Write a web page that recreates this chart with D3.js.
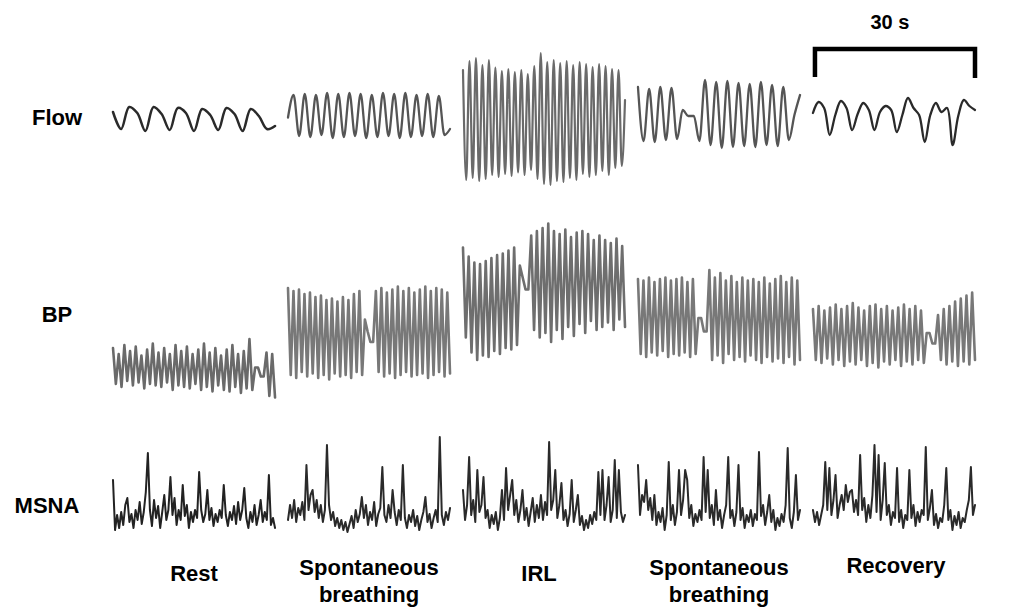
<!DOCTYPE html>
<html><head><meta charset="utf-8">
<script src="https://cdn.jsdelivr.net/npm/d3@7"></script>
<style>html,body{margin:0;padding:0;background:#fff;}svg{display:block;}</style>
</head><body>
<svg id="c" width="1024" height="610"></svg>
<script>
// ---- categories / labels ----
const conditions = ["Rest", "Spontaneous breathing ", "IRL", "Spontaneous breathing", "Recovery"];
const conditionLabels = [["Rest"], ["Spontaneous", "breathing"], ["IRL"], ["Spontaneous", "breathing"], ["Recovery"]];
const rowLabels = ["Flow", "BP", "MSNA"];
const segmentSeconds = 30;
const scaleBarLabel = "30 s";

// ---- Flow (L/s), successive turning points over each 30 s window ----
const flowRest = [0.16, -0.18, 0.26, 0.14, -0.22, 0.26, 0.12, -0.2, 0.24, 0.14, -0.22, 0.22, 0.1, -0.2, 0.24, 0.12, -0.22, 0.22, 0.08, -0.18, -0.12];
const flowSpont1 = [0.05, 0.5, -0.32, 0.52, -0.34, 0.5, -0.3, 0.54, -0.36, 0.52, -0.34, 0.54, -0.32, 0.52, -0.36, 0.5, -0.34, 0.54, -0.32, 0.52, -0.36, 0.54, -0.34, 0.5, -0.32, 0.52, -0.34, 0.48, -0.3, -0.18];
const flowIRL = [1.0, -1.2, 1.18, -1.16, 1.24, -1.22, 1.1, -1.18, 1.2, -1.1, 1.05, -1.14, 0.98, -1.08, 1.02, -1.12, 0.96, -1.05, 1.0, -1.1, 0.92, -1.0, 1.08, -1.18, 1.34, -1.28, 1.16, -1.3, 1.2, -1.22, 1.14, -1.24, 1.18, -1.16, 1.1, -1.2, 1.16, -1.08, 1.12, -1.14, 1.06, -1.1, 1.12, -1.02, 1.08, -1.1, 1.02, -0.96, 1.0, -0.92, 0.4];
const flowSpont2 = [0.66, -0.42, 0.62, -0.44, 0.66, -0.4, 0.64, -0.38, 0.2, 0.08, 0.08, -0.42, 0.8, -0.5, 0.76, -0.56, 0.78, -0.54, 0.74, -0.52, 0.72, -0.54, 0.76, -0.5, 0.7, -0.52, 0.66, -0.4, 0.1, 0.5];
const flowRecovery = [0.14, 0.36, 0.24, -0.3, 0.1, 0.38, 0.24, -0.2, 0.12, 0.34, 0.2, -0.2, 0.16, 0.28, 0.2, -0.24, 0.1, 0.44, 0.24, 0.1, -0.44, 0.1, 0.34, 0.16, 0.24, -0.5, 0.08, 0.4, 0.28, 0.2];

// ---- BP (mmHg), alternating systolic / diastolic turning points ----
const bpRest = [108,84,104,82,110,86,106,83,109,85,103,81,107,84,111,83,105,82,108,85,104,80,110,83,106,82,109,81,104,84,107,80,111,82,105,79,108,83,103,80,107,79,110,82,104,78,106,81,114,80,95,95,89,89,105,76,104,75];
const bpSpont1 = [148,90,146,88,147,92,144,89,145,91,142,88,143,90,140,87,141,91,139,89,142,90,140,88,144,92,146,90,127,119,112,112,146,92,148,89,145,91,147,88,149,90,146,92,148,89,145,90,147,91,149,88,146,90,148,92,147,89,145,91];
const bpIRL = [175,115,169,105,165,100,164,103,166,102,168,106,170,104,171,108,173,107,175,110,163,155,147,147,183,120,186,115,188,118,191,112,186,120,184,114,187,122,182,116,185,124,186,118,184,126,180,120,183,122,180,125,178,120,181,127,176,122];
const bpSpont2 = [154,104,153,102,155,105,152,103,154,106,155,102,153,104,154,103,155,105,152,102,154,104,128,128,119,119,160,100,155,103,158,98,153,104,156,100,152,102,155,99,153,103,154,100,152,98,155,102,151,99,154,101,156,98,152,102,155,97,153,100];
const bpRecovery = [134,100,136,98,133,101,135,97,137,100,134,96,136,99,138,97,135,100,133,96,136,98,137,95,134,99,136,97,133,100,135,96,137,99,134,97,136,100,133,98,118,118,111,111,130,100,134,97,136,99,139,96,141,99,143,97,145,100];

// ---- MSNA (a.u.), sampled trace ----
const msnaRest = [60,10,25,12,28,15,35,42,18,26,12,30,20,38,16,28,48,87,30,14,40,22,34,12,28,45,20,30,63,25,42,15,30,20,55,24,35,12,28,18,30,22,68,30,18,26,50,20,32,14,26,18,30,22,55,25,14,28,20,34,16,38,20,30,52,22,12,28,18,35,15,25,40,18,28,20,65,15,22,12];
const msnaSpont1 = [20,35,22,40,18,32,25,38,20,75,30,45,50,28,40,22,35,18,30,95,35,20,28,14,22,12,20,10,18,8,16,24,12,30,18,26,43,22,35,15,28,20,38,14,26,32,73,25,18,35,22,50,28,15,30,20,75,22,12,25,18,30,14,24,10,20,28,43,18,26,12,22,30,18,103,25,15,28,20,32];
const msnaIRL = [50,20,35,83,25,40,18,70,28,35,63,22,30,12,25,16,28,10,22,50,20,72,30,45,60,25,40,18,30,50,20,32,14,28,42,18,35,22,45,20,38,25,98,30,40,70,22,35,57,20,30,14,26,60,18,30,45,15,24,10,20,12,25,16,28,20,68,25,70,20,35,63,18,30,80,22,70,28,18,25];
const msnaSpont2 = [75,25,45,38,60,30,42,20,45,15,28,18,32,10,25,78,20,35,15,28,70,25,40,70,60,22,35,14,26,18,30,20,83,28,70,22,35,15,50,20,30,12,25,35,83,22,30,14,28,75,20,32,12,25,18,30,14,26,20,88,24,35,15,28,45,18,30,10,22,14,26,18,35,92,22,12,28,65,20,30];
const msnaRecovery = [30,18,28,15,25,35,78,30,72,25,40,65,22,35,45,30,55,38,48,50,28,40,25,85,30,42,18,35,22,45,95,28,85,20,40,77,25,35,15,28,22,72,18,30,12,25,20,70,22,35,14,28,18,30,25,93,20,32,50,15,26,12,22,18,35,72,20,30,10,24,15,28,12,22,18,30,40,73,25,35];

const flowSeries = [flowRest, flowSpont1, flowIRL, flowSpont2, flowRecovery];
const bpSeries = [bpRest, bpSpont1, bpIRL, bpSpont2, bpRecovery];
const msnaSeries = [msnaRest, msnaSpont1, msnaIRL, msnaSpont2, msnaRecovery];

// ---- drawing ----
const svg = d3.select("#c");
const font = "'Liberation Sans', Arial, Helvetica, sans-serif";

const band = d3.scaleBand().domain(conditions).range([113, 975]).paddingInner(0.074).paddingOuter(0);
const t = d3.scaleLinear().domain([0, segmentSeconds]).range([0, band.bandwidth()]);

const yFlow = d3.scaleLinear().domain([-1.5, 1.5]).range([195, 45]);
const yBP = d3.scaleLinear().domain([60, 200]).range([420, 210]);
const yMSNA = d3.scaleLinear().domain([0, 100]).range([540, 440]);

function drawRow(series, y, styles) {
  series.forEach((vals, k) => {
    const x0 = band(conditions[k]);
    const n = vals.length;
    const st = styles[k];
    const line = d3.line()
      .x((d, i) => x0 + t(i * segmentSeconds / (n - 1)))
      .y(d => y(d))
      .curve(st.curve || d3.curveLinear);
    svg.append("path")
      .attr("d", line(vals))
      .attr("fill", "none")
      .attr("stroke", st.color)
      .attr("stroke-width", st.width)
      .attr("stroke-linejoin", "round")
      .attr("stroke-linecap", "round");
  });
}

drawRow(flowSeries, yFlow, [
  {color: "#2a2a2a", width: 2.5, curve: d3.curveCatmullRom.alpha(0.5)},
  {color: "#555", width: 2.3, curve: d3.curveMonotoneX},
  {color: "#6a6a6a", width: 2.2, curve: d3.curveMonotoneX},
  {color: "#555", width: 2.3, curve: d3.curveMonotoneX},
  {color: "#2a2a2a", width: 2.3, curve: d3.curveCatmullRom.alpha(0.5)}
]);
drawRow(bpSeries, yBP, [
  {color: "#6a6a6a", width: 2.6}, {color: "#787878", width: 2.6}, {color: "#6e6e6e", width: 2.6},
  {color: "#787878", width: 2.6}, {color: "#787878", width: 2.6}
]);
drawRow(msnaSeries, yMSNA, [
  {color: "#222", width: 2.0}, {color: "#2a2a2a", width: 2.0}, {color: "#2a2a2a", width: 2.0},
  {color: "#2a2a2a", width: 2.0}, {color: "#2a2a2a", width: 2.0}
]);

// row labels
const rowLabelPos = [{x: 57, y: 125}, {x: 57, y: 322}, {x: 47, y: 513}];
rowLabels.forEach((s, i) => {
  svg.append("text").attr("x", rowLabelPos[i].x).attr("y", rowLabelPos[i].y)
    .attr("text-anchor", "middle").attr("font-family", font).attr("font-weight", "bold")
    .attr("font-size", 22).attr("fill", "#000").text(s);
});

// condition labels
const labelBase = [581, 575, 581, 575, 573];
const labelDx = [0, 0, -5, 0, 2];
conditionLabels.forEach((lines, k) => {
  const cx = band(conditions[k]) + band.bandwidth() / 2 + labelDx[k];
  const txt = svg.append("text").attr("text-anchor", "middle").attr("font-family", font)
    .attr("font-weight", "bold").attr("font-size", 22).attr("fill", "#000");
  lines.forEach((l, j) => {
    txt.append("tspan").attr("x", cx).attr("y", labelBase[k] + j * 27).text(l);
  });
});

// 30 s scale bar, drawn on the time axis of the last window
const xs = band(conditions[4]);
const xa = xs + t(0), xb = xs + t(segmentSeconds);
svg.append("path")
  .attr("d", `M${xa + 2},77 L${xa + 2},49 L${xb},49 L${xb},78`)
  .attr("fill", "none").attr("stroke", "#000").attr("stroke-width", 4.5);
svg.append("text").attr("x", (xa + xb) / 2 - 4).attr("y", 29).attr("text-anchor", "middle")
  .attr("font-family", font).attr("font-weight", "bold").attr("font-size", 20).text(scaleBarLabel);
</script>
</body></html>
